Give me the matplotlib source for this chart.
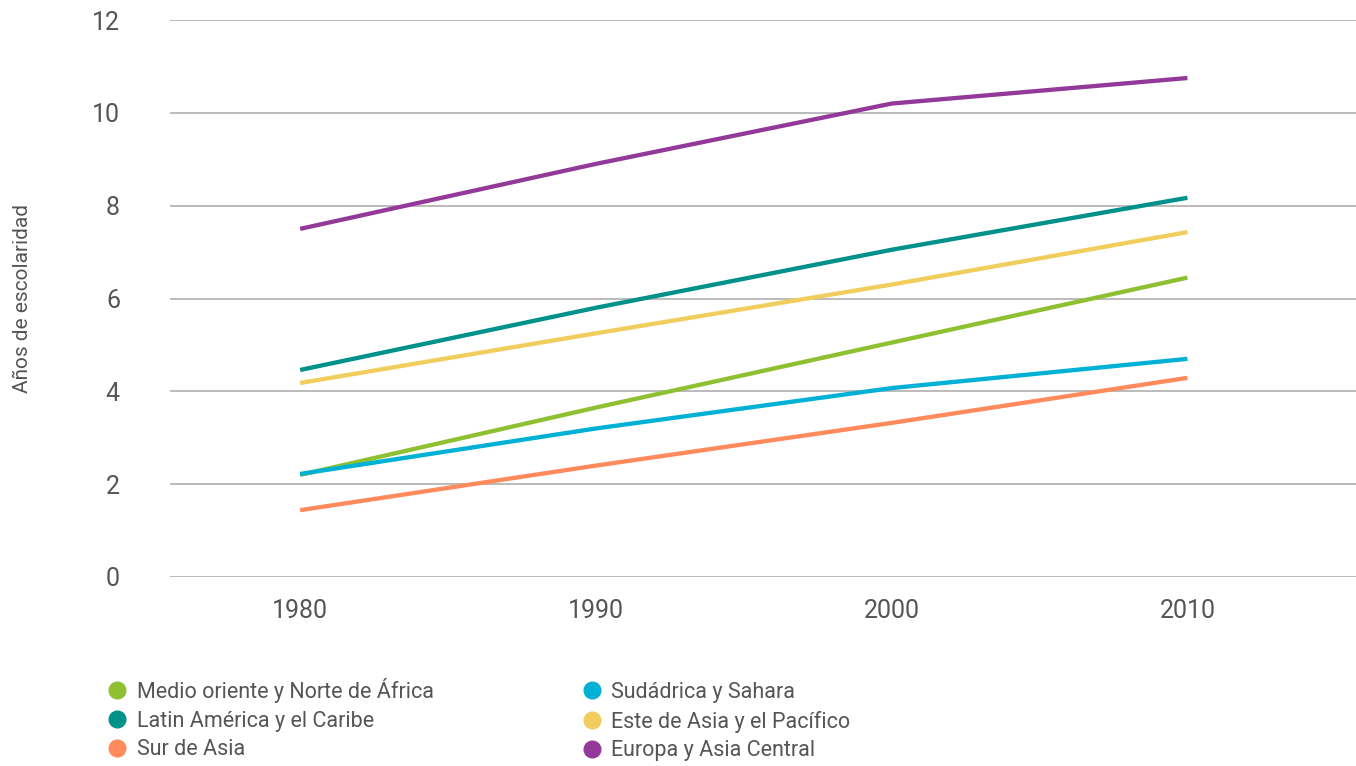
import matplotlib.pyplot as plt
from matplotlib.lines import Line2D

plt.rcParams['font.family'] = ['Roboto', 'DejaVu Sans']

anios = [1980, 1990, 2000, 2010]
medio_oriente = [2.2, 3.65, 5.05, 6.45]
sudafrica = [2.22, 3.2, 4.07, 4.7]
latam = [4.46, 5.8, 7.05, 8.17]
este_asia = [4.18, 5.25, 6.3, 7.43]
sur_asia = [1.44, 2.4, 3.32, 4.29]
europa = [7.5, 8.9, 10.2, 10.75]

nombres = ['Medio oriente y Norte de África', 'Latin América y el Caribe', 'Sur de Asia',
           'Sudádrica y Sahara', 'Este de Asia y el Pacífico', 'Europa y Asia Central']
colores = ['#8fc031', '#00918a', '#ff8a5b', '#00b1d5', '#f0cd5c', '#93399a']
series = [medio_oriente, latam, sur_asia, sudafrica, este_asia, europa]

gris = '#555555'

fig = plt.figure(figsize=(13.56, 7.66), dpi=100)
ax = fig.add_axes([170/1356, 1 - 577/766, 1 - 170/1356, (577-20)/766])

for vals, col in zip(series, colores):
    ax.plot(anios, vals, color=col, lw=3.1, solid_capstyle='butt')

ax.set_xlim(1975.6, 2015.7)
ax.set_ylim(0, 12)
ax.set_yticks(range(0, 13, 2))
ax.set_xticks(anios)
ax.grid(axis='y', color='#b5b5b5', lw=1.3)
ax.set_axisbelow(True)
for s in ax.spines.values():
    s.set_visible(False)
ax.tick_params(length=0, labelsize=18, labelcolor=gris)
ax.tick_params(axis='y', pad=36)
ax.tick_params(axis='x', pad=16)
ax.set_ylabel('Años de escolaridad', fontsize=15, color=gris, labelpad=0)
ax.yaxis.set_label_coords(-138/1186, 0.5)

handles = [Line2D([], [], ls='none', marker='o', ms=12, color=c) for c in colores]
fig.legend(handles, nombres, ncol=2, loc='upper left', bbox_to_anchor=(100/1356, 1 - 667/766),
           frameon=False, fontsize=15.5, labelcolor=gris, handlelength=0.6, handletextpad=0.6,
           labelspacing=0.36, columnspacing=7.05, borderpad=0)

fig.savefig('out.png', dpi=100)
